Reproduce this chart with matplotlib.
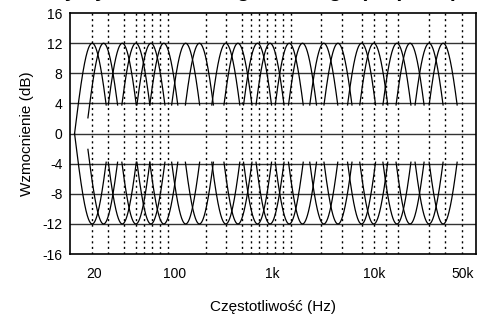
import numpy as np
import matplotlib.pyplot as plt

plt.rcParams['font.family'] = ['Liberation Sans', 'DejaVu Sans']
plt.rcParams['axes.unicode_minus'] = False

# band centre frequencies (Hz) of the peaks
bands = [15, 19.5, 30, 41, 58, 78, 129, 177, 325, 430, 675, 900,
         1400, 1900, 3100, 4300, 7400, 9800, 16700, 22600, 35000, 48400]
gain = 12          # boost / cut in dB
floor_db = 3.8     # curves are drawn down to this level
# left start of the first two curves (Hz)
starts = {0: 9.0, 1: 13.6}

# dotted vertical lines (Hz)
vlines = [15, 21.5, 31.3, 40.9, 49.5, 59.2, 71.6, 86.7, 205, 327, 476, 578,
          695, 836, 1005, 1216, 1452, 2897, 4699, 7499, 9886, 12942, 17061,
          35318, 51050, 74473]

xtick_pos = [15.6, 100, 940, 10000, 76000]
xtick_lab = ['20', '100', '1k', '10k', '50k']
yticks = [-16, -12, -8, -4, 0, 4, 8, 12, 16]

fig = plt.figure(figsize=(4.8, 3.2), dpi=100)
ax = fig.add_axes([0.146, 0.206, 0.846, 0.753])

half = 0.14                                   # decades from peak to floor
W = half * (np.pi / 2) / np.arccos(floor_db / gain)
for i, fc in enumerate(bands):
    lc = np.log10(fc)
    lo = max(np.log10(starts[i]), lc - W) if i in starts else lc - half
    lx = np.linspace(lo, lc + half, 200)
    g = gain * np.cos(np.pi / 2 * (lx - lc) / W)
    ax.plot(10 ** lx, g, color='black', lw=0.9)
    ax.plot(10 ** lx, -g, color='black', lw=0.9)

for y in [-12, -8, -4, 0, 4, 8, 12]:
    ax.axhline(y, color='#333333', lw=1.0, zorder=0)
for v in vlines:
    ax.axvline(v, color='black', lw=1.0, ls=(0, (1.5, 2.5)), zorder=0)

ax.set_xscale('log')
ax.set_xlim(9.02, 103500)
ax.set_ylim(-16, 16)
ax.set_xticks(xtick_pos)
ax.set_xticklabels(xtick_lab)
ax.minorticks_off()
ax.set_yticks(yticks)
ax.tick_params(length=0, labelsize=10)
ax.tick_params(axis='x', pad=9)
ax.tick_params(axis='y', pad=5.5)
for s in ax.spines.values():
    s.set_linewidth(1.2)

ax.set_xlabel('Częstotliwość (Hz)', fontsize=11, labelpad=14)
ax.set_ylabel('Wzmocnienie (dB)', fontsize=11, labelpad=6)
# title sits above the top edge, only its descenders show
fig.text(0.955, 1.008, 'Charakterystyka korektora graficznego (31 pasm)',
         ha='right', va='baseline', fontsize=15, fontweight='bold')

fig.savefig('out.png', dpi=100)
